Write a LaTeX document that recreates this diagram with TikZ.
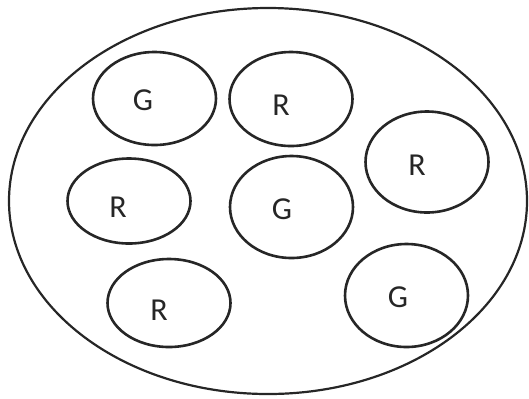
\documentclass[tikz,border=0pt]{standalone}
\usepackage{fontspec}
\setmainfont{Carlito}
\usetikzlibrary{shapes.geometric}
\begin{document}
\begin{tikzpicture}[x=0.5pt, y=-0.5pt,
  blob/.style={draw=black!85, ellipse, line width=1.3pt, minimum width=61.5pt, inner sep=0pt},
  lbl/.style={font=\fontsize{16pt}{18pt}\selectfont, text=black!85, inner sep=0pt}]
  \useasboundingbox (0,0) rectangle (529,398);
  \node[draw=black!85, ellipse, line width=1.1pt, minimum width=259pt, minimum height=193pt, inner sep=0pt] (world) at (268,201) {};

  \node[blob, minimum height=46.5pt] (g1) at (154.5,98.5) {};
  \node[blob, minimum height=47pt] (r1) at (291,99) {};
  \node[blob, minimum height=50.5pt] (r2) at (427,162) {};
  \node[blob, minimum height=42.5pt] (r3) at (129,201) {};
  \node[blob, minimum height=51pt] (g2) at (291.5,207) {};
  \node[blob, minimum height=44pt] (r4) at (169,303) {};
  \node[blob, minimum height=51.5pt] (g3) at (406.5,295.5) {};

  \node[lbl] (g1l) at (143,100) {G};
  \node[lbl] (r1l) at (281,105) {R};
  \node[lbl] (r2l) at (417,165) {R};
  \node[lbl] (r3l) at (118,207) {R};
  \node[lbl] (g2l) at (282,209) {G};
  \node[lbl] (r4l) at (159,310) {R};
  \node[lbl] (g3l) at (398,297) {G};
\end{tikzpicture}
\end{document}
